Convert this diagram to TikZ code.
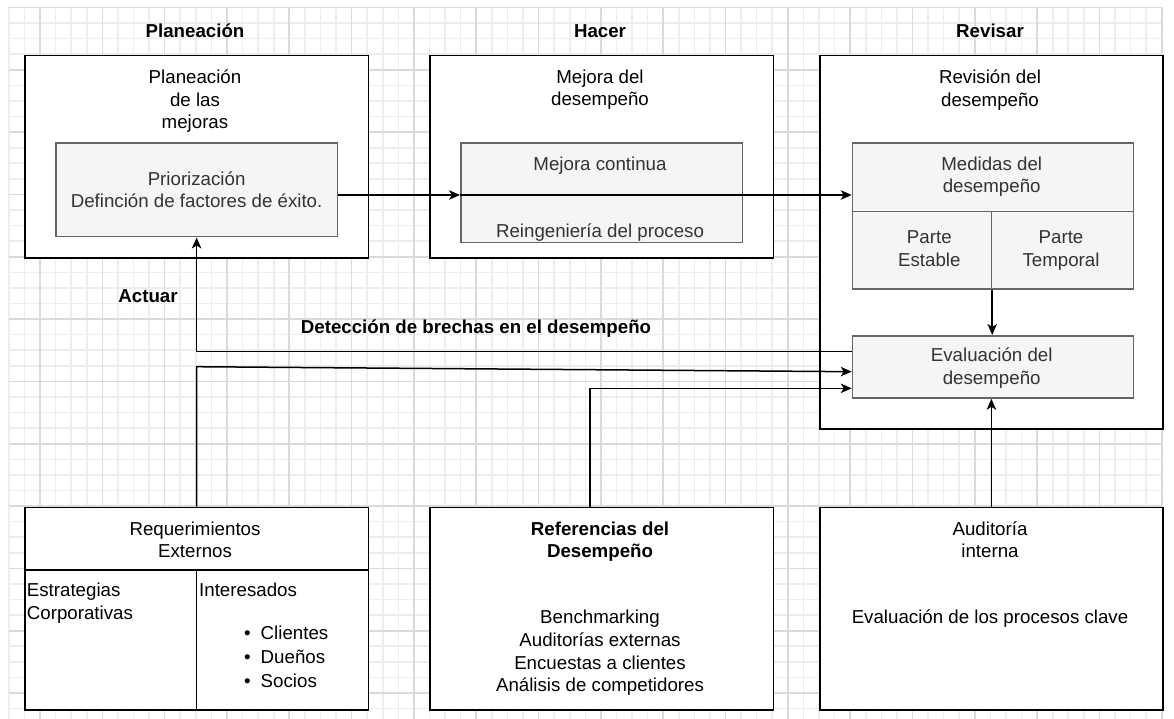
\documentclass[tikz,border=0pt]{standalone}
\usepackage{fontspec}
\setmainfont{Liberation Sans}
\usetikzlibrary{arrows.meta,calc}
\definecolor{innerfill}{HTML}{F5F5F5}
\definecolor{innerdraw}{HTML}{666666}
\definecolor{innertext}{HTML}{333333}
\definecolor{gridminor}{HTML}{EDEDED}
\definecolor{gridmajor}{HTML}{DADADA}
\begin{document}
\begin{tikzpicture}[x=1pt,y=-1pt,
  outerbox/.style={draw=black, fill=white, line width=1.5pt, inner sep=0pt, anchor=north west},
  innerbox/.style={draw=innerdraw, fill=innerfill, line width=1.5pt, inner sep=0pt, anchor=north west,
    text=innertext, font=\fontsize{18.7}{22.4}\selectfont, align=center},
  txt/.style={font=\fontsize{18.7}{22.4}\selectfont, inner sep=0pt, align=center, anchor=north},
  graytxt/.style={txt, text=innertext},
  title/.style={font=\fontsize{18.7}{22.4}\selectfont\bfseries, inner sep=0pt, anchor=base},
  arr/.style={line width=1.5pt, -{Stealth[length=11pt,width=9.5pt,inset=3pt]}},
  gridmin/.style={draw=gridminor, line width=1.6pt},
  gridmaj/.style={draw=gridmajor, line width=1.6pt}]
\useasboundingbox (0,0) rectangle (1174,719);
% background grid
\foreach \i in {0,...,74}{\pgfmathsetmacro\gx{8.84+15.58*\i}\draw[gridmin] (\gx,7.5) -- (\gx,719);}
\foreach \j in {0,...,45}{\pgfmathsetmacro\gy{7.5+15.58*\j}\draw[gridmin] (8.84,\gy) -- (1161.8,\gy);}
\foreach \i in {2,6,...,74}{\pgfmathsetmacro\gx{8.84+15.58*\i}\draw[gridmaj] (\gx,7.5) -- (\gx,719);}
\foreach \j in {0,4,...,44}{\pgfmathsetmacro\gy{7.5+15.58*\j}\draw[gridmaj] (8.84,\gy) -- (1161.8,\gy);}

% titles
\node[title] (tP) at (195,37.7) {Planeación};
\node[title] (tH) at (600,37.7) {Hacer};
\node[title] (tR) at (990,37.7) {Revisar};

% outer boxes
\node[outerbox, minimum width=343.7pt, minimum height=202.3pt] (P) at (24,55) {};
\node[outerbox, minimum width=343.4pt, minimum height=202.3pt] (H) at (429.3,55) {};
\node[outerbox, minimum width=343.3pt, minimum height=373.3pt] (R) at (819,55) {};
\node[txt] (Ptxt) at (195,69.7) {Planeación\\de las\\mejoras};
\node[txt] (Htxt) at (600,69.7) {Mejora del\\desempeño};
\node[txt] (Rtxt) at (990,69.7) {Revisión del\\desempeño};

% inner boxes
\node[innerbox, minimum width=281.7pt, minimum height=93.7pt] (PI) at (55,142.3) {Priorización\\Definción de factores de éxito.};
\node[innerbox, minimum width=281.7pt, minimum height=99.4pt] (HI) at (460,142.3) {};
\node[graytxt] (HItxt) at (600,156.3) {Mejora continua\\[44.6pt]Reingeniería del proceso};
\node[innerbox, minimum width=281pt, minimum height=68.4pt] (M) at (851.7,142.3) {};
\node[innerbox, minimum width=139pt, minimum height=77.6pt] (PE) at (851.7,210.7) {};
\node[innerbox, minimum width=142pt, minimum height=77.6pt] (PT) at (990.7,210.7) {};
\node[graytxt] (Mtxt) at (991.7,156.3) {Medidas del\\desempeño};
\node[graytxt] (PEtxt) at (929.3,230.7) {Parte\\Estable};
\node[graytxt] (PTtxt) at (1061,230.7) {Parte\\Temporal};
\node[innerbox, minimum width=281pt, minimum height=62.3pt] (E) at (851.7,335) {};
\node[graytxt] (Etxt) at (991.7,348) {Evaluación del\\desempeño};

% bottom boxes
\node[outerbox, minimum width=343.7pt, minimum height=62.6pt] (Req) at (24,506.7) {};
\node[outerbox, minimum width=171.7pt, minimum height=140pt] (ReqL) at (24,569.3) {};
\node[outerbox, minimum width=172pt, minimum height=140pt] (ReqR) at (195.7,569.3) {};
\node[txt] (Reqtxt) at (195,521.3) {Requerimientos\\Externos};
\node[txt, anchor=north west, align=left] (Esttxt) at (26.7,583) {Estrategias\\Corporativas};
\node[txt, anchor=north west, align=left] (Inttxt) at (199,583) {Interesados};
\node[txt, anchor=north west, align=left, font=\fontsize{18.7}{24}\selectfont] (Bultxt) at (244,625.7)
  {•\hspace{10pt}Clientes\\•\hspace{10pt}Dueños\\•\hspace{10pt}Socios};

\node[outerbox, minimum width=343.4pt, minimum height=202.6pt] (Ref) at (429.3,506.7) {};
\node[txt, font=\fontsize{18.7}{22.4}\selectfont\bfseries] (Reftxt) at (600,521.3) {Referencias del\\Desempeño};
\node[txt, font=\fontsize{18.7}{22.8}\selectfont] (Reflist) at (600,609.7)
  {Benchmarking\\Auditorías externas\\Encuestas a clientes\\Análisis de competidores};

\node[outerbox, minimum width=343.3pt, minimum height=202.6pt] (Aud) at (819,506.7) {};
\node[txt] (Audtxt) at (990,521.3) {Auditoría\\interna};
\node[txt] (Audlist) at (990,609.7) {Evaluación de los procesos clave};

% free labels
\node[title] (act) at (148,302.7) {Actuar};
\node[title] (det) at (476,333.7) {Detección de brechas en el desempeño};

% helper coordinates
\coordinate (y195) at (0,195);
\coordinate (yA) at (0,351.7);
\coordinate (yB) at (0,366.7);
\coordinate (yC) at (0,371.7);
\coordinate (yD) at (0,388.3);
\coordinate (xR) at (590,0);

% connectors
\draw[arr] (PI.east |- y195) -- (HI.west |- y195);
\draw[arr] (HI.west |- y195) -- (M.west |- y195);
\draw[arr] (PE.south east) -- (PE.south east |- E.north);
\draw[arr] (E.west |- yA) -| (PI.south);
\draw[arr] (Req.north) -- (Req.north |- yB) -- (E.west |- yC);
\draw[arr] (Ref.north -| xR) |- (E.west |- yD);
\draw[arr] (Aud.north) -- (Aud.north |- E.south);
\end{tikzpicture}
\end{document}
